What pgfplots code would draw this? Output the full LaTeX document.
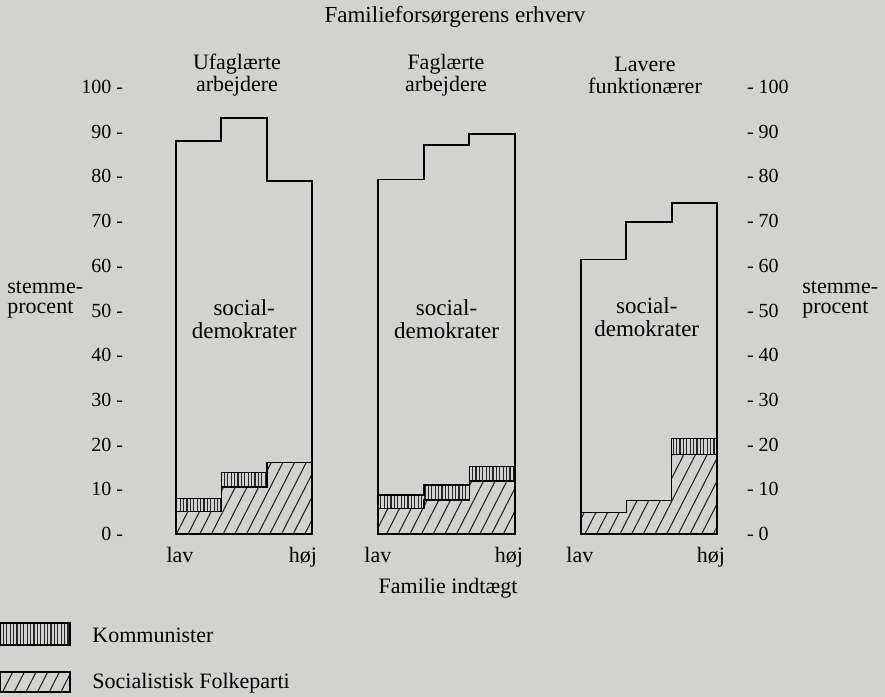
\documentclass[border=0pt]{standalone}
\usepackage{pgfplots}
\usepackage{pgfplotstable}
\pgfplotsset{compat=1.18}
\usepackage{fontspec}
\setmainfont{Liberation Serif}
\usetikzlibrary{patterns.meta}
\definecolor{bgc}{RGB}{210,210,208}
\tikzset{
  sfpat/.style={pattern={Lines[angle=63,distance=5.2pt,line width=0.55pt]},pattern color=black!85},
  kpat/.style={pattern={Lines[angle=90,distance=1.7pt,line width=0.55pt]},pattern color=black!85},
}
% x: income step (lav -> hoej), sf: Socialistisk Folkeparti, k: Kommunister, sd: total incl. socialdemokrater
\pgfplotstableread{
x sf k sd
0 5 3 88
1 10.5 3.2 93
2 16 0 79
3 16 0 79
}\gA
\pgfplotstableread{
x sf k sd
4.45 5.7 3 79.3
5.45 7.6 3.4 87.1
6.45 11.9 3.2 89.5
7.45 11.9 3.2 89.5
}\gB
\pgfplotstableread{
x sf k sd
8.9 4.8 0 61.4
9.9 7.5 0 69.7
10.9 17.8 3.5 74
11.9 17.8 3.5 74
}\gC
\begin{document}
\begin{tikzpicture}
\fill[bgc] (0,0) rectangle (442.5pt,-348.5pt);
\path[use as bounding box] (0,0) rectangle (442.5pt,-348.5pt);
\begin{axis}[
  at={(65pt,-267pt)}, anchor=south west,
  scale only axis, width=305pt, height=223.5pt,
  xmin=-1.01, xmax=12.4, ymin=0, ymax=100,
  clip=false,
  axis y line*=left, axis x line*=bottom,
  axis line style={draw=none},
  major tick length=0pt,
  ytick={0,10,...,100},
  yticklabels={0 -,10 -,20 -,30 -,40 -,50 -,60 -,70 -,80 -,90 -,100 -},
  yticklabel style={font=\fontsize{10}{10}\selectfont},
  xtick={0.09,2.79,4.44,7.32,8.88,11.76},
  xticklabels={lav,høj,lav,høj,lav,høj},
  xticklabel style={font=\fontsize{11}{11}\selectfont, yshift=-3pt},
  every axis plot/.append style={const plot, no markers},
]
% Group A
\addplot[draw=black, line width=0.7pt, kpat] table[x=x, y expr=\thisrow{sf}+\thisrow{k}] {\gA} \closedcycle;
\addplot[draw=black, line width=0.7pt, fill=bgc, postaction={sfpat}] table[x=x, y=sf] {\gA} \closedcycle;
\addplot[draw=black, line width=0.95pt, fill=none] table[x=x, y=sd] {\gA} \closedcycle;
% Group B
\addplot[draw=black, line width=0.7pt, kpat] table[x=x, y expr=\thisrow{sf}+\thisrow{k}] {\gB} \closedcycle;
\addplot[draw=black, line width=0.7pt, fill=bgc, postaction={sfpat}] table[x=x, y=sf] {\gB} \closedcycle;
\addplot[draw=black, line width=0.95pt, fill=none] table[x=x, y=sd] {\gB} \closedcycle;
% Group C
\addplot[draw=black, line width=0.7pt, kpat] table[x=x, y expr=\thisrow{sf}+\thisrow{k}] {\gC} \closedcycle;
\addplot[draw=black, line width=0.7pt, fill=bgc, postaction={sfpat}] table[x=x, y=sf] {\gC} \closedcycle;
\addplot[draw=black, line width=0.95pt, fill=none] table[x=x, y=sd] {\gC} \closedcycle;
% labels inside
\node[align=center, font=\fontsize{11.5}{11.5}\selectfont] at (axis cs:1.5,48) {social-\\demokrater};
\node[align=center, font=\fontsize{11.5}{11.5}\selectfont] at (axis cs:5.95,48) {social-\\demokrater};
\node[align=center, font=\fontsize{11.5}{11.5}\selectfont] at (axis cs:10.35,48.5) {social-\\demokrater};
\end{axis}
\begin{axis}[
  at={(65pt,-267pt)}, anchor=south west,
  scale only axis, width=305pt, height=223.5pt,
  xmin=-1.01, xmax=12.4, ymin=0, ymax=100,
  axis y line*=right, axis x line=none,
  axis line style={draw=none},
  major tick length=0pt,
  ytick={0,10,...,100},
  yticklabels={- 0,- 10,- 20,- 30,- 40,- 50,- 60,- 70,- 80,- 90,- 100},
  yticklabel style={font=\fontsize{10}{10}\selectfont},
]
\end{axis}
% titles
\node[font=\fontsize{11.5}{12}\selectfont] at (227.5pt,-8.5pt) {Familieforsørgerens erhverv};
\node[align=center, font=\fontsize{11}{11}\selectfont] at (118.5pt,-37.5pt) {Ufaglærte\\arbejdere};
\node[align=center, font=\fontsize{11}{11}\selectfont] at (223pt,-37.5pt) {Faglærte\\arbejdere};
\node[align=center, font=\fontsize{11}{11}\selectfont] at (322.5pt,-37.5pt) {Lavere\\funktionærer};
\node[align=left, anchor=west, inner sep=0pt, font=\fontsize{11}{10}\selectfont] at (3.5pt,-150pt) {stemme-\\procent};
\node[align=left, anchor=west, inner sep=0pt, font=\fontsize{11}{10}\selectfont] at (401pt,-150pt) {stemme-\\procent};
\node[font=\fontsize{11}{11}\selectfont] at (224pt,-294pt) {Familie indtægt};
% legend
\draw[line width=0.6pt, kpat] (0.4pt,-311.5pt) rectangle (35pt,-322.5pt);
\node[anchor=west, inner sep=0pt, font=\fontsize{11}{11}\selectfont] at (46pt,-317.5pt) {Kommunister};
\draw[line width=0.6pt, sfpat] (0.4pt,-336pt) rectangle (35pt,-346pt);
\node[anchor=west, inner sep=0pt, font=\fontsize{11}{11}\selectfont] at (46pt,-341.5pt) {Socialistisk Folkeparti};
\end{tikzpicture}
\end{document}
